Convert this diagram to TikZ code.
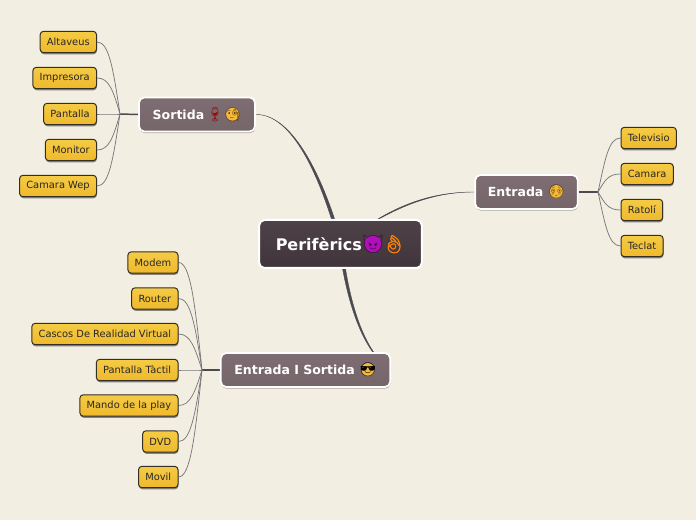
\documentclass[tikz,border=0pt]{standalone}
\usepackage{fontspec}
\setmainfont{DejaVu Sans}
\newfontfamily\emojifont[Scale=1.1]{Noto Emoji}
\newfontfamily\emojibold[Scale=1.1,FakeBold=2]{Noto Emoji}
\usetikzlibrary{shadows,backgrounds}

\definecolor{paperbg}{HTML}{F3EEE2}
\definecolor{leaftop}{HTML}{F5CB45}
\definecolor{leafbot}{HTML}{EFB92C}
\definecolor{leafedge}{HTML}{332F28}
\definecolor{branchtop}{HTML}{7E6D72}
\definecolor{branchbot}{HTML}{75666A}
\definecolor{roottop}{HTML}{4E4248}
\definecolor{rootbot}{HTML}{40353B}
\definecolor{linkdark}{HTML}{4A4A50}
\definecolor{linkthin}{HTML}{77777A}
\definecolor{facegold}{HTML}{F5B93C}
\definecolor{facedark}{HTML}{5A3A10}
\definecolor{devilpink}{HTML}{B010B8}

\newcommand{\emo}[2]{{\emojibold\textcolor{#1}{#2}}}
\newcommand{\thinemo}[2]{{\emojifont\textcolor{#1}{#2}}}
\newcommand{\faceemo}[3]{{\emojifont\setbox0=\hbox{#3}\makebox[0pt][l]{\hspace{0.5\wd0}\tikz[overlay]\fill[#1] (0,0.36em) circle (0.48em);}\textcolor{#2}{#3}}}

\tikzset{
	leafnode/.style={draw=leafedge, line width=0.75pt, rounded corners=2.5pt,
		top color=leaftop, bottom color=leafbot, text=black!85,
		font=\fontsize{7.4pt}{9pt}\selectfont, inner xsep=5.1pt, inner ysep=0pt,
		minimum height=16pt,
		drop shadow={shadow xshift=0.3pt, shadow yshift=-1.2pt, opacity=0.45, fill=black}},
	branchnode/.style={draw=white, line width=1.3pt, rounded corners=4pt,
		top color=branchtop, bottom color=branchbot, text=white,
		font=\fontsize{9.4pt}{12pt}\bfseries\selectfont, inner xsep=0pt, inner ysep=0pt,
		minimum height=25.5pt,
		drop shadow={shadow xshift=0.3pt, shadow yshift=-1.2pt, opacity=0.3, fill=black}},
	rootnode/.style={draw=white, line width=1.5pt, rounded corners=4pt,
		top color=roottop, bottom color=rootbot, text=white,
		font=\fontsize{12pt}{15pt}\bfseries\selectfont, inner sep=0pt,
		minimum width=122pt, minimum height=36pt},
	trunk/.style={draw=linkdark, fill=linkdark, line width=0.3pt},
	stem/.style={draw=linkdark, line width=1.1pt},
	twig/.style={draw=linkthin, line width=0.55pt}
}

\begin{document}
\begin{tikzpicture}[x=0.75pt, y=-0.75pt, line cap=round, line join=round]
	\useasboundingbox (0,0) rectangle (696,520);
	
	% --------------------------------
	% Central topic and main branches
	% --------------------------------
	\node[rootnode] (root) at (340.5,244) {Perifèrics\faceemo{devilpink}{black!60!devilpink}{😈}\hspace{-1pt}\emo{orange}{👌}};
	\node[branchnode, minimum width=87pt] (sortida) at (197,114.5) {Sortida\,\thinemo{red!60!black}{🍷}\faceemo{facegold}{facedark}{🧐}};
	\node[branchnode, minimum width=77pt] (entrada) at (526.5,192) {Entrada\,\,\faceemo{facegold}{facedark}{😳}};
	\node[branchnode, minimum width=127pt] (entsort) at (305.5,370) {Entrada I Sortida\,\,\faceemo{facegold}{black}{😎}};
	
	\coordinate (jsortida) at (120,114);
	\coordinate (jentrada) at (598,192);
	\coordinate (jentsort) at (202,370);
	
	% --------------------------------
	% Leaves of the left upper branch
	% --------------------------------
	\foreach \name/\yy/\txt in {
		altaveus/42/Altaveus,
		impresora/78/Impresora,
		pantalla/114/Pantalla,
		monitor/150/Monitor,
		camwep/186/Camara Wep
	}
	{
		\node[leafnode, anchor=east] (\name) at (97,\yy) {\txt};
	}
	
	% --------------------------------
	% Leaves of the right branch
	% --------------------------------
	\foreach \name/\yy/\txt in {
		televisio/138/Televisio,
		camara/174/Camara,
		ratoli/210/Ratolí,
		teclat/246/Teclat
	}
	{
		\node[leafnode, anchor=west] (\name) at (620.5,\yy) {\txt};
	}
	
	% --------------------------------
	% Leaves of the lower branch
	% --------------------------------
	\foreach \name/\yy/\txt in {
		modem/262.5/Modem,
		router/298.5/Router,
		cascos/334/Cascos De Realidad Virtual,
		pantact/370/Pantalla Tàctil,
		mando/405.5/Mando de la play,
		dvd/441.5/DVD,
		movil/477/Movil
	}
	{
		\node[leafnode, anchor=east] (\name) at (178.5,\yy) {\txt};
	}
	
	\begin{scope}[on background layer]
		\fill[paperbg] (0,0) rectangle (696,520);
		
		% --------------------------------
		% Tapered links from the centre
		% --------------------------------
		\draw[trunk] (sortida.east) .. controls (292,114) and (320,175) .. ([xshift=-1.3pt]root.center)
		-- ([xshift=1.3pt]root.center) .. controls (323,175) and (292,114) .. (sortida.east) -- cycle;
		\draw[trunk] (entrada.west) .. controls (425,192) and (385,209) .. ([yshift=-1.3pt]root.center)
		-- ([yshift=1.3pt]root.center) .. controls (387,212) and (425,192) .. (entrada.west) -- cycle;
		\draw[trunk] (entsort.east) .. controls (359,350) and (344.5,290) .. ([xshift=-1.3pt]root.center)
		-- ([xshift=1.3pt]root.center) .. controls (347,290) and (360.5,350) .. (entsort.east) -- cycle;
		
		\draw[stem] (sortida.west) -- (jsortida);
		\draw[stem] (entrada.east) -- (jentrada);
		\draw[stem] (entsort.west) -- (jentsort);
		
		% --------------------------------
		% Thin curves out to the leaves
		% --------------------------------
		\foreach \name/\cy in {altaveus/-46,impresora/-24,pantalla/0,monitor/24,camwep/46}
		{
			\draw[twig] (jsortida) .. controls +(-7,\cy) and +(12,0) .. (\name.east);
		}
		\foreach \name/\cy in {televisio/-32,camara/-12,ratoli/12,teclat/32}
		{
			\draw[twig] (jentrada) .. controls +(7,\cy) and +(-12,0) .. (\name.west);
		}
		\foreach \name/\cy in {modem/-66,router/-46,cascos/-22,pantact/0,mando/22,dvd/46,movil/66}
		{
			\draw[twig] (jentsort) .. controls +(-7,\cy) and +(12,0) .. (\name.east);
		}
	\end{scope}
	
\end{tikzpicture}
\end{document}
